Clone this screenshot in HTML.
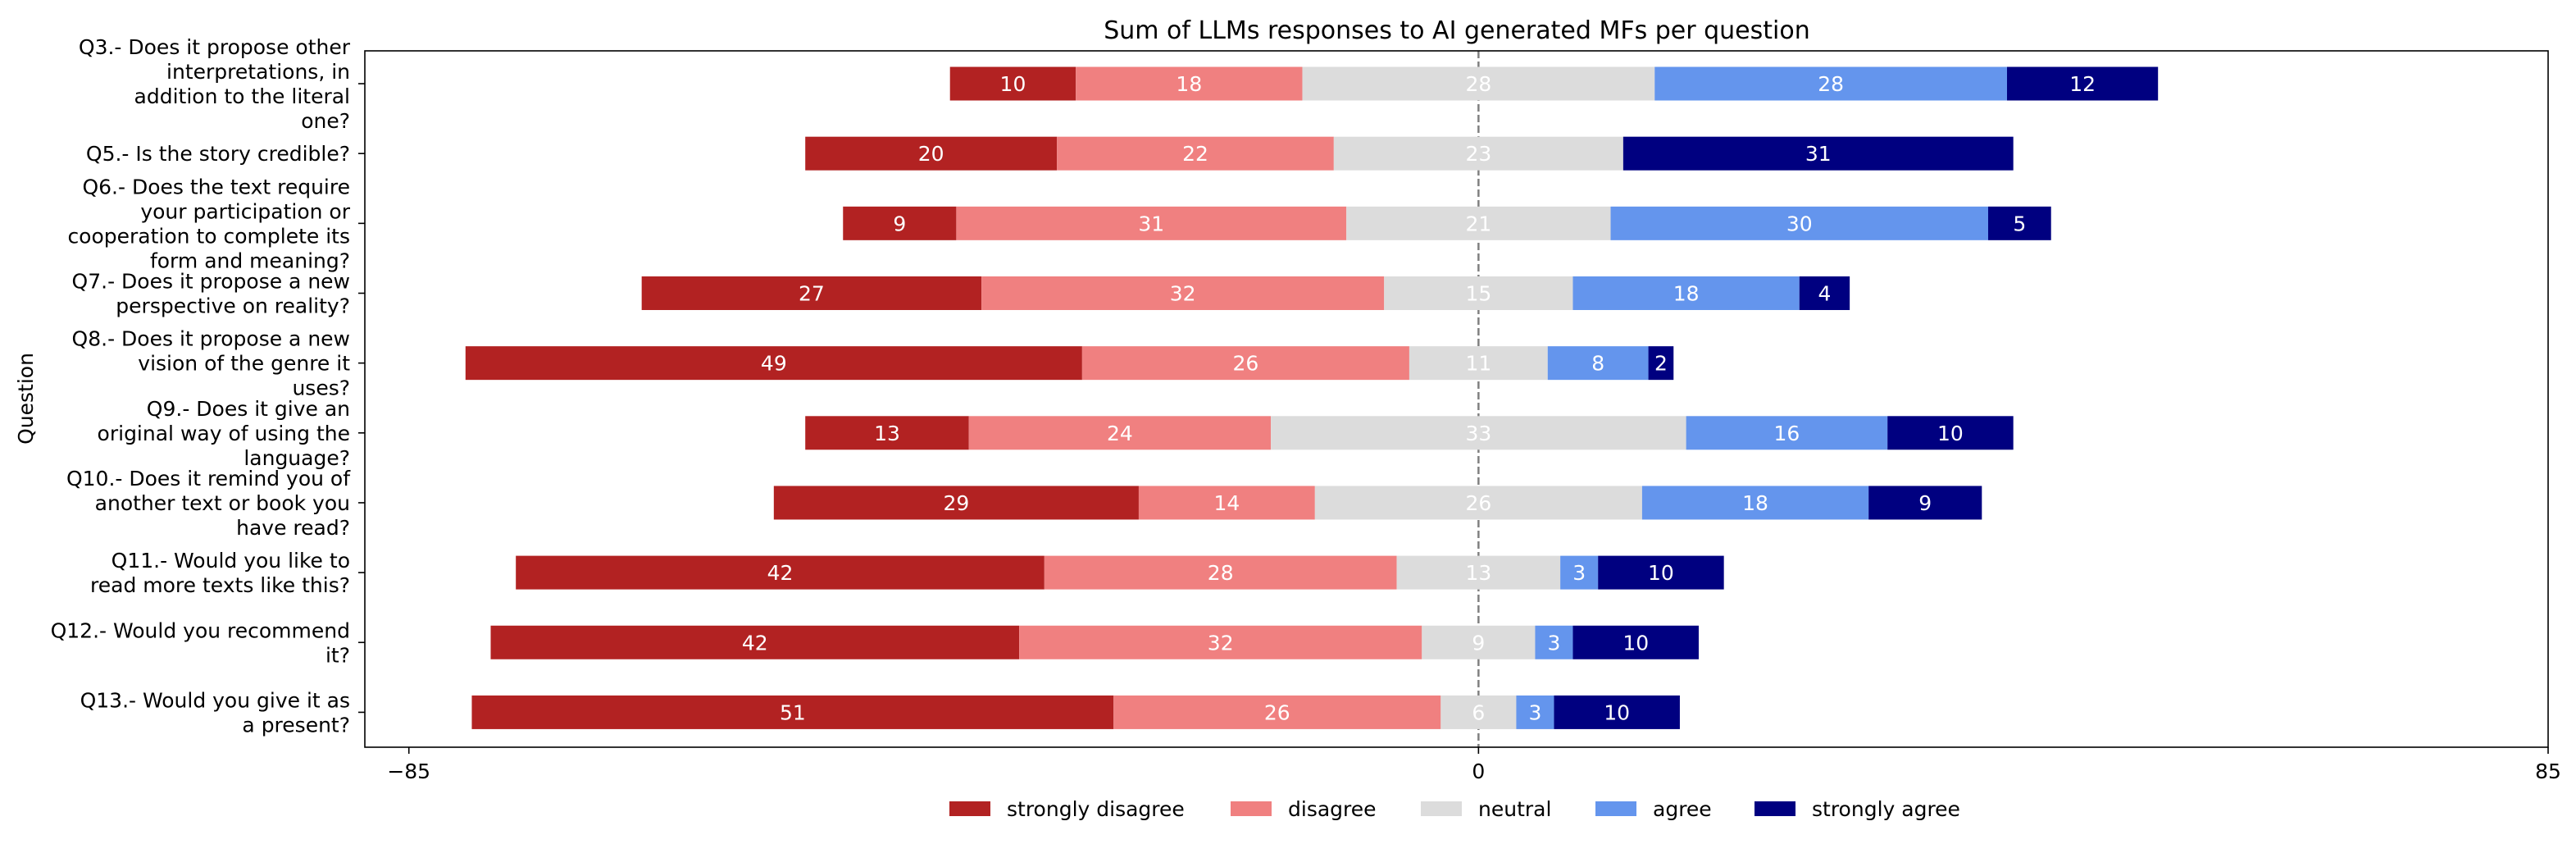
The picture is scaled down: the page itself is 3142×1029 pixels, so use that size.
<!DOCTYPE html>
<html><head><meta charset="utf-8"><style>
html,body{margin:0;padding:0;background:#fff;}
svg{display:block;font-family:"DejaVu Sans","Liberation Sans",sans-serif;}
</style></head><body>
<svg id="chart" width="3142" height="1029" viewBox="0 0 3142 1029" xmlns="http://www.w3.org/2000/svg">
<text x="1777" y="47" font-size="30" text-anchor="middle" fill="#000">Sum of LLMs responses to AI generated MFs per question</text>
<text x="0" y="0" font-size="25" text-anchor="middle" transform="translate(40,486) rotate(-90)">Question</text>
<g id="plot"></g>
</svg>
<script>
const questions = [
 ["Q3.- Does it propose other","interpretations, in","addition to the literal","one?"],
 ["Q5.- Is the story credible?"],
 ["Q6.- Does the text require","your participation or","cooperation to complete its","form and meaning?"],
 ["Q7.- Does it propose a new","perspective on reality?"],
 ["Q8.- Does it propose a new","vision of the genre it","uses?"],
 ["Q9.- Does it give an","original way of using the","language?"],
 ["Q10.- Does it remind you of","another text or book you","have read?"],
 ["Q11.- Would you like to","read more texts like this?"],
 ["Q12.- Would you recommend","it?"],
 ["Q13.- Would you give it as","a present?"]
];
const stronglyDisagree = [10,20,9,27,49,13,29,42,42,51];
const disagree = [18,22,31,32,26,24,14,28,32,26];
const neutral = [28,23,21,15,11,33,26,13,9,6];
const agree = [28,0,30,18,8,16,18,3,3,3];
const stronglyAgree = [12,31,5,4,2,10,9,10,10,10];
const xTicks = [-85,0,85];
const seriesNames = ["strongly disagree","disagree","neutral","agree","strongly agree"];
const colors = ["#b22222","#f08080","#dcdcdc","#6495ed","#000080"];

const NS="http://www.w3.org/2000/svg";
const g=document.getElementById('plot');
const L=445,R=3108,T=62,B=911;
const xmin=-88.5,xmax=85;
const X=v=>L+(v-xmin)/(xmax-xmin)*(R-L);
const Y=i=>T+(i+0.47)*((B-T)/9.97);
const barH=41;
function mk(tag,attrs){const e=document.createElementNS(NS,tag);for(const k in attrs)e.setAttribute(k,attrs[k]);g.appendChild(e);return e;}

const zl=mk('line',{x1:X(0),x2:X(0),y1:T,y2:B,stroke:'#808080','stroke-width':2.5,'stroke-dasharray':'9,4'});



const series=[stronglyDisagree,disagree,neutral,agree,stronglyAgree];
for(let i=0;i<questions.length;i++){
  const vals=series.map(s=>s[i]);
  let start=-(vals[0]+vals[1]+vals[2]/2);
  const cy=Y(i);
  for(let k=0;k<5;k++){
    const v=vals[k];
    if(v>0){
      const r=mk('rect',{x:X(start),y:cy-barH/2,width:X(start+v)-X(start),height:barH,fill:colors[k]});
      
      
      const t=mk('text',{x:(X(start)+X(start+v))/2,y:cy+9,'font-size':25,'text-anchor':'middle',fill:'#fff'});
      t.textContent=v;
      
      
    }
    start+=v;
  }
  const tk=mk('line',{x1:L-8,x2:L,y1:cy,y2:cy,stroke:'#000','stroke-width':1.6});
  
  
  const lines=questions[i];
  const lh=30;
  const y0=cy-(lines.length-1)*lh/2+9;
  const t=mk('text',{x:L-18,'font-size':25,'text-anchor':'end',fill:'#000'});
  
  
  lines.forEach((ln,j)=>{const s=document.createElementNS(NS,'tspan');s.setAttribute('x',L-18);s.setAttribute('y',y0+j*lh);s.textContent=ln;t.appendChild(s);});
}
const frame=mk('rect',{x:L,y:T,width:R-L,height:B-T,fill:'none',stroke:'#000','stroke-width':1.6});


xTicks.forEach(v=>{
  const l=mk('line',{x1:X(v),x2:X(v),y1:B,y2:B+8,stroke:'#000','stroke-width':1.6});
  
  
  const t=mk('text',{x:X(v),y:B+38,'font-size':25,'text-anchor':'middle',fill:'#000'});
  t.textContent=v<0?'\u2212'+(-v):v;
  
  
});
const legX=[1158,1501,1733,1946,2140];
seriesNames.forEach((n,k)=>{
  const r=mk('rect',{x:legX[k],y:977,width:50,height:18,fill:colors[k]});
  
  
  const t=mk('text',{x:legX[k]+70,y:995,'font-size':25,fill:'#000'});
  t.textContent=n;
  
  
});
</script>
</body></html>
